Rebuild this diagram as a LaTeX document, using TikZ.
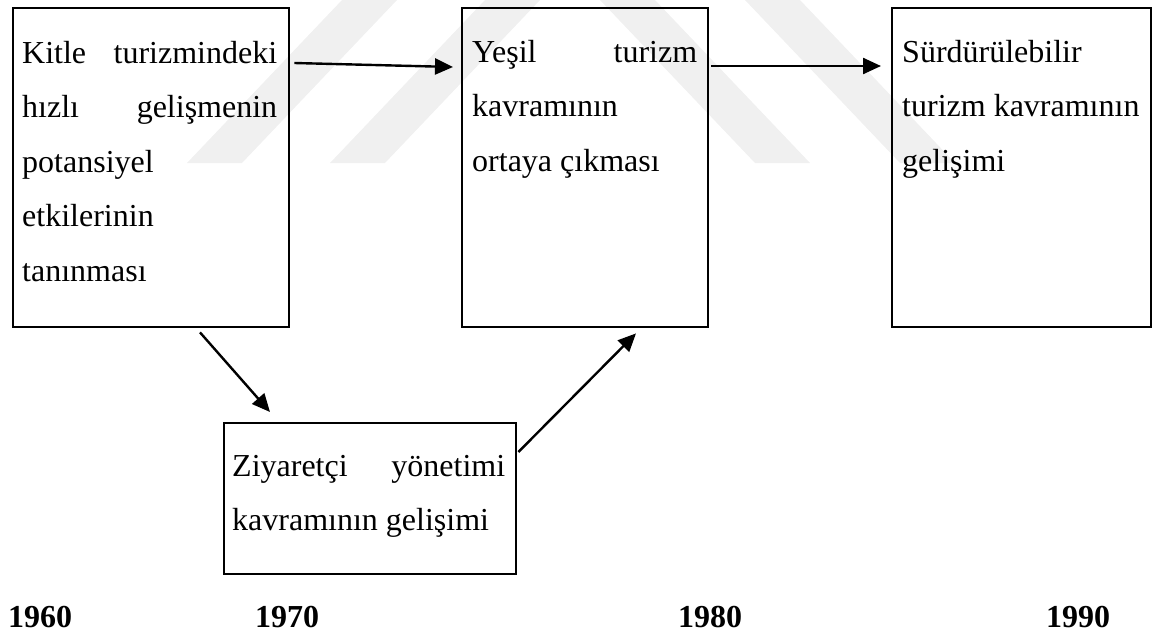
\documentclass[tikz,border=0pt]{standalone}
\usepackage{fontspec}
\setmainfont{Liberation Serif}
\usetikzlibrary{arrows.meta,calc}
\newcommand{\lines}[1]{\parbox[t]{290pt}{\fontsize{32}{54.5}\selectfont\raggedright #1}}
\tikzset{
  box/.style={draw=black,line width=2.4pt,rectangle,inner sep=0pt},
  txt/.style={anchor=base west,inner sep=0pt},
  yr/.style={anchor=base west,inner sep=0pt,font=\fontsize{32}{32}\selectfont\bfseries},
  arr/.style={line width=2.4pt,-{Triangle[length=18pt,width=16pt]}},
  wm/.style={fill=black!6,draw=none}
}
\begin{document}
\begin{tikzpicture}[x=1pt,y=-1pt]
\useasboundingbox (0,0) rectangle (1152,635);
% faint watermark
\fill[wm] (187,163) -- (242,163) -- (397,0) -- (342,0) -- cycle;
\fill[wm] (330,163) -- (385,163) -- (540,0) -- (485,0) -- cycle;
\fill[wm] (755,163) -- (810,163) -- (655,0) -- (600,0) -- cycle;
\fill[wm] (900,163) -- (955,163) -- (800,0) -- (745,0) -- cycle;
% boxes
\node[box,minimum width=276pt,minimum height=319pt,anchor=north west] (b1) at (12,7) {};
\node[box,minimum width=246pt,minimum height=319pt,anchor=north west] (b2) at (461,7) {};
\node[box,minimum width=259pt,minimum height=319pt,anchor=north west] (b3) at (891,7) {};
\node[box,minimum width=292pt,minimum height=151pt,anchor=north west] (b4) at (223,422) {};
% texts
\node[txt] (t1) at (22,63) {\lines{\makebox[255pt][s]{Kitle turizmindeki}\\\makebox[255pt][s]{hızlı gelişmenin}\\potansiyel\\etkilerinin\\tanınması}};
\node[txt] (t2) at (472,62) {\lines{\makebox[225pt][s]{Yeşil turizm}\\kavramının\\ortaya çıkması}};
\node[txt] (t3) at (902,62) {\lines{Sürdürülebilir\\turizm kavramının\\gelişimi}};
\node[txt] (t4) at (232,476) {\lines{\makebox[273pt][s]{Ziyaretçi yönetimi}\\kavramının gelişimi}};
% years
\node[yr] (y1) at (8,627) {1960};
\node[yr] (y2) at (255,627) {1970};
\node[yr] (y3) at (678,627) {1980};
\node[yr] (y4) at (1046,627) {1990};
% arrows
\draw[arr] ($(b1.north east)+(4,56)$) -- ($(b2.north west)+(-8,60)$);
\draw[arr] ($(b2.north east)+(2,59)$) -- ($(b3.north west)+(-10,59)$);
\draw[arr] ($(b1.south west)+(188,4)$) -- ($(b4.north west)+(47,-10)$);
\draw[arr] ($(b4.north east)+(1,30)$) -- ($(b2.south west)+(175,5)$);
\end{tikzpicture}
\end{document}
